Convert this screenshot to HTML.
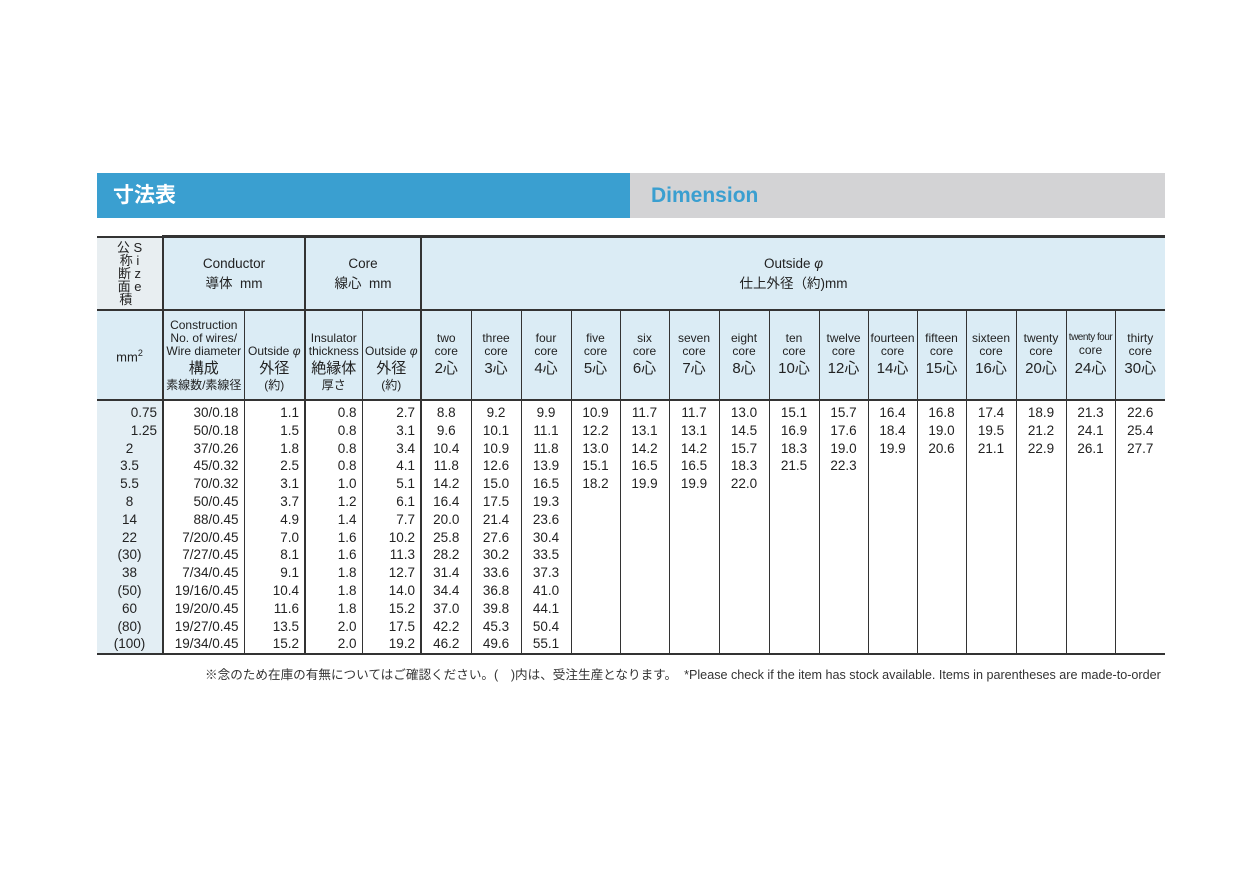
<!DOCTYPE html>
<html><head><meta charset="utf-8"><style>
body{margin:0;width:1241px;height:875px;background:#fff;font-family:"Liberation Sans","Noto Sans CJK JP",sans-serif;color:#222;position:relative;overflow:hidden}
.bl{position:absolute;left:97px;top:173px;width:533px;height:45px;background:#3a9fd0;color:#fff;font-size:21px;font-weight:bold;line-height:45px;padding-left:16px;box-sizing:border-box}
.bg{position:absolute;left:630px;top:173px;width:535px;height:45px;background:#d3d3d5;color:#3a9fd0;font-size:21px;font-weight:bold;line-height:45px;padding-left:21px;box-sizing:border-box}
table{position:absolute;left:97px;top:235px;border-collapse:collapse;table-layout:fixed;width:1068px}
td{padding:0;text-align:center;font-size:13px;line-height:15px;border-left:1px solid #333;overflow:hidden;white-space:nowrap}
.h td{background:#dbecf5}
.h1 td{height:71px;border-bottom:2px solid #333}
.h2 td{height:88px;border-bottom:2px solid #333;font-size:12px;line-height:13px}
.h2 .j{font-size:15px;line-height:21px}
tr.top td{border-top:3px solid #333}
td.tk{border-left:2px solid #333}
.d td{height:17.8px;font-size:13.5px;line-height:17.8px;background:#fff}
.d td.sz{background:#e3eef4;border-left:none}
.d td.r{text-align:right;padding-right:5px}
tr.last td{border-bottom:2px solid #333}
.pad td{height:3px;line-height:3px}
.foot{position:absolute;left:205px;top:664px;font-size:12.6px;color:#333;white-space:nowrap}
</style></head><body>
<div class="bl">寸法表</div><div class="bg">Dimension</div>
<table>
<colgroup><col style="width:66px"><col style="width:81px"><col style="width:61px"><col style="width:57px"><col style="width:59px">
<col style="width:50px"><col style="width:50px"><col style="width:50px"><col style="width:49px"><col style="width:49px"><col style="width:50px"><col style="width:50px"><col style="width:50px"><col style="width:49px"><col style="width:49px"><col style="width:49px"><col style="width:50px"><col style="width:50px"><col style="width:49px"><col style="width:50px"></colgroup>
<tr class="h h1 top"><td style="border-left:none;background:#e8eef1;font-size:13px;line-height:13px;border-top-width:2px">公 S<br>称 i<br>断 z<br>面 e<br>積 &nbsp;</td>
<td colspan="2" class="tk" style="font-size:13.5px;line-height:20px">Conductor<br>導体&nbsp; mm</td>
<td colspan="2" class="tk" style="font-size:13.5px;line-height:20px">Core<br>線心&nbsp; mm</td>
<td colspan="15" class="tk" style="font-size:13.5px;line-height:20px">Outside <i>φ</i><br>仕上外径（約)mm</td></tr>
<tr class="h h2"><td style="border-left:none;font-size:13px">mm<sup style="font-size:9px">2</sup></td>
<td class="tk">Construction<br>No. of wires/<br>Wire diameter<br><span class="j">構成</span><br>素線数/素線径</td>
<td><br><br>Outside <i>φ</i><br><span class="j">外径</span><br>(約)</td>
<td class="tk"><br>Insulator<br>thickness<br><span class="j">絶縁体</span><br>厚さ</td>
<td><br><br>Outside <i>φ</i><br><span class="j">外径</span><br>(約)</td>
<td class="tk">two<br>core<br><span class="j">2心</span></td><td>three<br>core<br><span class="j">3心</span></td><td>four<br>core<br><span class="j">4心</span></td><td>five<br>core<br><span class="j">5心</span></td><td>six<br>core<br><span class="j">6心</span></td><td>seven<br>core<br><span class="j">7心</span></td><td>eight<br>core<br><span class="j">8心</span></td><td>ten<br>core<br><span class="j">10心</span></td><td>twelve<br>core<br><span class="j">12心</span></td><td>fourteen<br>core<br><span class="j">14心</span></td><td>fifteen<br>core<br><span class="j">15心</span></td><td>sixteen<br>core<br><span class="j">16心</span></td><td>twenty<br>core<br><span class="j">20心</span></td><td style="font-size:10px;letter-spacing:-0.5px">twenty four<br><span style="font-size:12px;letter-spacing:0">core</span><br><span class="j" style="letter-spacing:0">24心</span></td><td>thirty<br>core<br><span class="j">30心</span></td></tr>
<tr class="d pad"><td class="sz"></td><td class="tk"></td><td></td><td class="tk"></td><td></td><td class="tk"></td><td></td><td></td><td></td><td></td><td></td><td></td><td></td><td></td><td></td><td></td><td></td><td></td><td></td><td></td></tr>
<tr class="d"><td class="sz r">0.75</td><td class="tk r">30/0.18</td><td class="r">1.1</td><td class="tk r">0.8</td><td class="r">2.7</td><td class="tk">8.8</td><td>9.2</td><td>9.9</td><td>10.9</td><td>11.7</td><td>11.7</td><td>13.0</td><td>15.1</td><td>15.7</td><td>16.4</td><td>16.8</td><td>17.4</td><td>18.9</td><td>21.3</td><td>22.6</td></tr>
<tr class="d"><td class="sz r">1.25</td><td class="tk r">50/0.18</td><td class="r">1.5</td><td class="tk r">0.8</td><td class="r">3.1</td><td class="tk">9.6</td><td>10.1</td><td>11.1</td><td>12.2</td><td>13.1</td><td>13.1</td><td>14.5</td><td>16.9</td><td>17.6</td><td>18.4</td><td>19.0</td><td>19.5</td><td>21.2</td><td>24.1</td><td>25.4</td></tr>
<tr class="d"><td class="sz">2</td><td class="tk r">37/0.26</td><td class="r">1.8</td><td class="tk r">0.8</td><td class="r">3.4</td><td class="tk">10.4</td><td>10.9</td><td>11.8</td><td>13.0</td><td>14.2</td><td>14.2</td><td>15.7</td><td>18.3</td><td>19.0</td><td>19.9</td><td>20.6</td><td>21.1</td><td>22.9</td><td>26.1</td><td>27.7</td></tr>
<tr class="d"><td class="sz">3.5</td><td class="tk r">45/0.32</td><td class="r">2.5</td><td class="tk r">0.8</td><td class="r">4.1</td><td class="tk">11.8</td><td>12.6</td><td>13.9</td><td>15.1</td><td>16.5</td><td>16.5</td><td>18.3</td><td>21.5</td><td>22.3</td><td></td><td></td><td></td><td></td><td></td><td></td></tr>
<tr class="d"><td class="sz">5.5</td><td class="tk r">70/0.32</td><td class="r">3.1</td><td class="tk r">1.0</td><td class="r">5.1</td><td class="tk">14.2</td><td>15.0</td><td>16.5</td><td>18.2</td><td>19.9</td><td>19.9</td><td>22.0</td><td></td><td></td><td></td><td></td><td></td><td></td><td></td><td></td></tr>
<tr class="d"><td class="sz">8</td><td class="tk r">50/0.45</td><td class="r">3.7</td><td class="tk r">1.2</td><td class="r">6.1</td><td class="tk">16.4</td><td>17.5</td><td>19.3</td><td></td><td></td><td></td><td></td><td></td><td></td><td></td><td></td><td></td><td></td><td></td><td></td></tr>
<tr class="d"><td class="sz">14</td><td class="tk r">88/0.45</td><td class="r">4.9</td><td class="tk r">1.4</td><td class="r">7.7</td><td class="tk">20.0</td><td>21.4</td><td>23.6</td><td></td><td></td><td></td><td></td><td></td><td></td><td></td><td></td><td></td><td></td><td></td><td></td></tr>
<tr class="d"><td class="sz">22</td><td class="tk r">7/20/0.45</td><td class="r">7.0</td><td class="tk r">1.6</td><td class="r">10.2</td><td class="tk">25.8</td><td>27.6</td><td>30.4</td><td></td><td></td><td></td><td></td><td></td><td></td><td></td><td></td><td></td><td></td><td></td><td></td></tr>
<tr class="d"><td class="sz">(30)</td><td class="tk r">7/27/0.45</td><td class="r">8.1</td><td class="tk r">1.6</td><td class="r">11.3</td><td class="tk">28.2</td><td>30.2</td><td>33.5</td><td></td><td></td><td></td><td></td><td></td><td></td><td></td><td></td><td></td><td></td><td></td><td></td></tr>
<tr class="d"><td class="sz">38</td><td class="tk r">7/34/0.45</td><td class="r">9.1</td><td class="tk r">1.8</td><td class="r">12.7</td><td class="tk">31.4</td><td>33.6</td><td>37.3</td><td></td><td></td><td></td><td></td><td></td><td></td><td></td><td></td><td></td><td></td><td></td><td></td></tr>
<tr class="d"><td class="sz">(50)</td><td class="tk r">19/16/0.45</td><td class="r">10.4</td><td class="tk r">1.8</td><td class="r">14.0</td><td class="tk">34.4</td><td>36.8</td><td>41.0</td><td></td><td></td><td></td><td></td><td></td><td></td><td></td><td></td><td></td><td></td><td></td><td></td></tr>
<tr class="d"><td class="sz">60</td><td class="tk r">19/20/0.45</td><td class="r">11.6</td><td class="tk r">1.8</td><td class="r">15.2</td><td class="tk">37.0</td><td>39.8</td><td>44.1</td><td></td><td></td><td></td><td></td><td></td><td></td><td></td><td></td><td></td><td></td><td></td><td></td></tr>
<tr class="d"><td class="sz">(80)</td><td class="tk r">19/27/0.45</td><td class="r">13.5</td><td class="tk r">2.0</td><td class="r">17.5</td><td class="tk">42.2</td><td>45.3</td><td>50.4</td><td></td><td></td><td></td><td></td><td></td><td></td><td></td><td></td><td></td><td></td><td></td><td></td></tr>
<tr class="d last"><td class="sz">(100)</td><td class="tk r">19/34/0.45</td><td class="r">15.2</td><td class="tk r">2.0</td><td class="r">19.2</td><td class="tk">46.2</td><td>49.6</td><td>55.1</td><td></td><td></td><td></td><td></td><td></td><td></td><td></td><td></td><td></td><td></td><td></td><td></td></tr>
</table>
<div class="foot">※念のため在庫の有無についてはご確認ください。(　)内は、受注生産となります。 &nbsp;*Please check if the item has stock available. Items in parentheses are made-to-order</div>
</body></html>
